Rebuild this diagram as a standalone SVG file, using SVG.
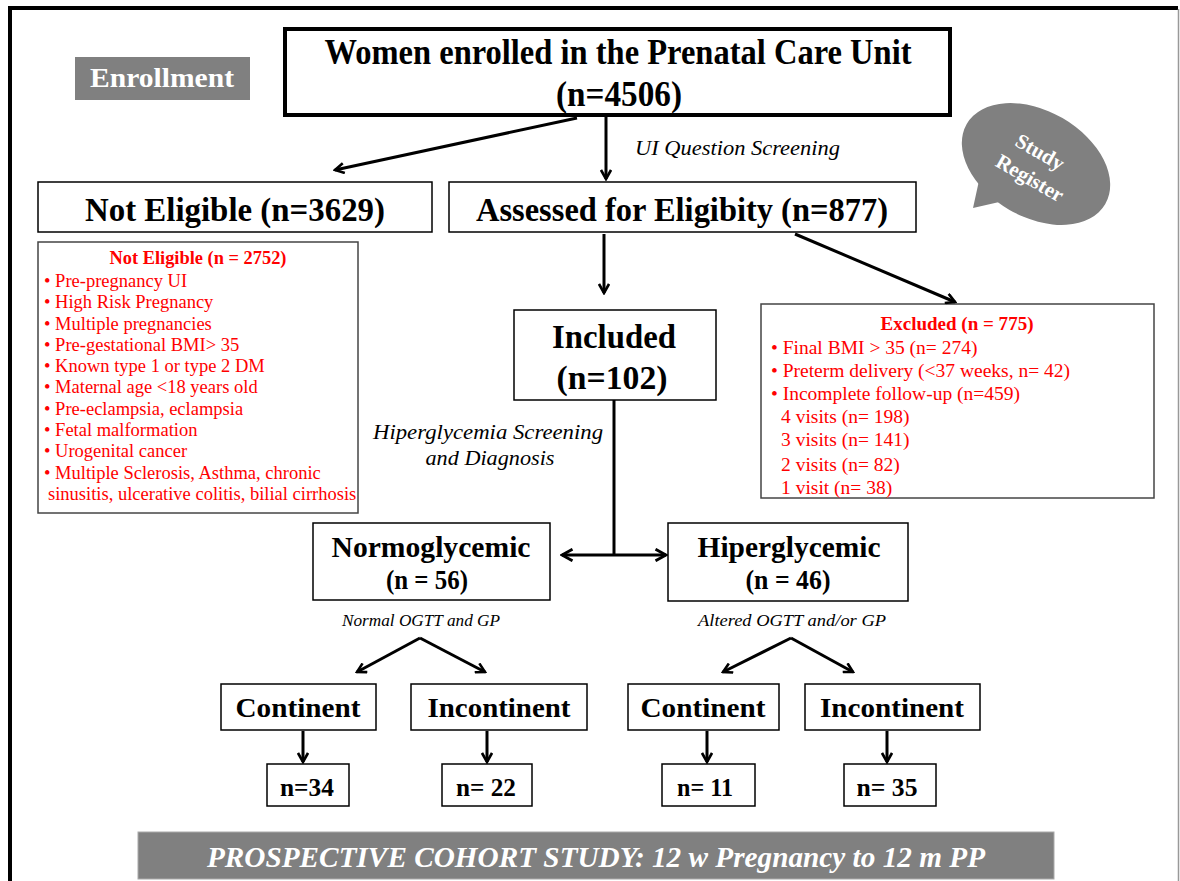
<svg xmlns="http://www.w3.org/2000/svg" width="1180" height="881" viewBox="0 0 1180 881">
<defs>
<marker id="ah" viewBox="0 0 12 12" refX="10" refY="6" markerWidth="12" markerHeight="12" markerUnits="userSpaceOnUse" orient="auto">
<path d="M1,1 L10,6 L1,11" fill="none" stroke="#000" stroke-width="2.6"/>
</marker>
<marker id="ah2" viewBox="0 0 12 12" refX="10" refY="6" markerWidth="14" markerHeight="14" markerUnits="userSpaceOnUse" orient="auto">
<path d="M1,1 L10,6 L1,11" fill="none" stroke="#000" stroke-width="2.4"/>
</marker>
</defs>
<style>
.box{fill:#fff;stroke:#000;stroke-width:1.5}
.gbox{fill:#fff;stroke:#444;stroke-width:1.5}
.t{font-family:"Liberation Serif",serif;font-weight:bold;fill:#000;text-anchor:middle}
.it{font-family:"Liberation Serif",serif;font-style:italic;fill:#000}
.red{font-family:"Liberation Serif",serif;fill:#ff0000;font-size:18.5px}
.redx{font-family:"Liberation Serif",serif;fill:#ff0000;font-size:19.5px}
.redb{font-family:"Liberation Serif",serif;fill:#ff0000;font-weight:bold;text-anchor:middle}
.w{fill:#fff}
.ln{stroke:#000;stroke-width:3;fill:none}
</style>
<rect width="1180" height="881" fill="#fff"/>
<path d="M10,881 L10,8 L1178,8" fill="none" stroke="#000" stroke-width="4"/>
<line x1="1178.5" y1="9" x2="1178.5" y2="881" stroke="#999" stroke-width="1.5"/>

<g id="enrollment">
<rect x="75" y="57" width="175" height="43" fill="#808080"/>
<text x="162" y="87" class="t w" font-size="27" textLength="144" lengthAdjust="spacingAndGlyphs">Enrollment</text>
</g>

<g id="top">
<rect x="285" y="29" width="665" height="86" fill="#fff" stroke="#000" stroke-width="4"/>
<text x="618" y="64" class="t" font-size="35" textLength="587" lengthAdjust="spacingAndGlyphs">Women enrolled in the Prenatal Care Unit</text>
<text x="619" y="106" class="t" font-size="35" textLength="126" lengthAdjust="spacingAndGlyphs">(n=4506)</text>
</g>

<g id="notEligible">
<rect x="38" y="182" width="394" height="50" class="box"/>
<text x="235" y="221" class="t" font-size="33" textLength="300" lengthAdjust="spacingAndGlyphs">Not Eligible (n=3629)</text>
</g>

<g id="assessed">
<rect x="449" y="182" width="467" height="50" class="box"/>
<text x="682" y="221" class="t" font-size="33" textLength="412" lengthAdjust="spacingAndGlyphs">Assessed for Eligibity (n=877)</text>
</g>

<g id="studyRegister">
<ellipse cx="1036" cy="164" rx="80" ry="53" transform="rotate(30 1036 164)" fill="#808080"/>
<path d="M973,208 L980,176 L1008,200 Z" fill="#808080"/>
<text x="1040" y="159" class="t w" font-size="21" transform="rotate(30 1040 152)">Study</text>
<text x="1030" y="185" class="t w" font-size="21" transform="rotate(30 1030 178)">Register</text>
</g>

<g id="notEligibleList">
<rect x="38" y="242" width="320" height="271" class="gbox"/>
<text x="198" y="264" class="redb" font-size="18" textLength="177" lengthAdjust="spacingAndGlyphs">Not Eligible (n = 2752)</text>
<text class="red">
<tspan x="44" y="287">• Pre-pregnancy UI</tspan>
<tspan x="44" y="308">• High Risk Pregnancy</tspan>
<tspan x="44" y="330">• Multiple pregnancies</tspan>
<tspan x="44" y="351">• Pre-gestational BMI&gt; 35</tspan>
<tspan x="44" y="372">• Known type 1 or type 2 DM</tspan>
<tspan x="44" y="393">• Maternal age &lt;18 years old</tspan>
<tspan x="44" y="415">• Pre-eclampsia, eclampsia</tspan>
<tspan x="44" y="436">• Fetal malformation</tspan>
<tspan x="44" y="457">• Urogenital cancer</tspan>
<tspan x="44" y="479">• Multiple Sclerosis, Asthma, chronic</tspan>
<tspan x="48" y="500">sinusitis, ulcerative colitis, bilial cirrhosis</tspan>
</text>
</g>

<g id="included">
<rect x="514" y="310" width="202" height="90" class="box"/>
<text x="614" y="348" class="t" font-size="34" textLength="124" lengthAdjust="spacingAndGlyphs">Included</text>
<text x="612" y="389" class="t" font-size="34" textLength="111" lengthAdjust="spacingAndGlyphs">(n=102)</text>
</g>

<g id="excluded">
<rect x="761" y="304" width="393" height="194" class="gbox"/>
<text x="957" y="330" class="redb" font-size="19" textLength="153" lengthAdjust="spacingAndGlyphs">Excluded (n = 775)</text>
<text class="redx">
<tspan x="771" y="354">• Final BMI &gt; 35 (n= 274)</tspan>
<tspan x="771" y="377">• Preterm delivery (&lt;37 weeks, n= 42)</tspan>
<tspan x="771" y="400">• Incomplete follow-up (n=459)</tspan>
<tspan x="781" y="423">4 visits (n= 198)</tspan>
<tspan x="781" y="446">3 visits (n= 141)</tspan>
<tspan x="781" y="471">2 visits (n= 82)</tspan>
<tspan x="781" y="494">1 visit (n=  38)</tspan>
</text>
</g>

<g id="normo">
<rect x="313" y="523" width="237" height="77" class="box"/>
<text x="431" y="557" class="t" font-size="29" textLength="199" lengthAdjust="spacingAndGlyphs">Normoglycemic</text>
<text x="427" y="589" class="t" font-size="27" textLength="82" lengthAdjust="spacingAndGlyphs">(n = 56)</text>
</g>

<g id="hiper">
<rect x="668" y="523" width="240" height="78" class="box"/>
<text x="789" y="557" class="t" font-size="29" textLength="183" lengthAdjust="spacingAndGlyphs">Hiperglycemic</text>
<text x="788" y="589" class="t" font-size="27" textLength="85" lengthAdjust="spacingAndGlyphs">(n = 46)</text>
</g>

<g id="cont1"><rect x="221" y="684" width="155" height="46" class="box"/><text x="298" y="717" class="t" font-size="28" textLength="125" lengthAdjust="spacingAndGlyphs">Continent</text></g>
<g id="incont1"><rect x="411" y="684" width="176" height="46" class="box"/><text x="499" y="717" class="t" font-size="28" textLength="143" lengthAdjust="spacingAndGlyphs">Incontinent</text></g>
<g id="cont2"><rect x="628" y="684" width="151" height="46" class="box"/><text x="703" y="717" class="t" font-size="28" textLength="125" lengthAdjust="spacingAndGlyphs">Continent</text></g>
<g id="incont2"><rect x="805" y="684" width="175" height="46" class="box"/><text x="892" y="717" class="t" font-size="28" textLength="144" lengthAdjust="spacingAndGlyphs">Incontinent</text></g>

<g id="n34"><rect x="267" y="764" width="82" height="42" class="box"/><text x="307" y="796" class="t" font-size="25" textLength="54" lengthAdjust="spacingAndGlyphs">n=34</text></g>
<g id="n22"><rect x="442" y="764" width="90" height="42" class="box"/><text x="486" y="796" class="t" font-size="25" textLength="60" lengthAdjust="spacingAndGlyphs">n= 22</text></g>
<g id="n11"><rect x="662" y="764" width="93" height="42" class="box"/><text x="705" y="796" class="t" font-size="25" textLength="56" lengthAdjust="spacingAndGlyphs">n= 11</text></g>
<g id="n35"><rect x="844" y="764" width="92" height="42" class="box"/><text x="887" y="796" class="t" font-size="25" textLength="61" lengthAdjust="spacingAndGlyphs">n= 35</text></g>

<g id="labels">
<text x="635" y="155" class="it" font-size="21" textLength="205" lengthAdjust="spacingAndGlyphs">UI Question Screening</text>
<text x="488" y="439" class="it" font-size="21" text-anchor="middle" textLength="230" lengthAdjust="spacingAndGlyphs">Hiperglycemia Screening</text>
<text x="490" y="465" class="it" font-size="21" text-anchor="middle" textLength="129" lengthAdjust="spacingAndGlyphs">and Diagnosis</text>
<text x="421" y="626" class="it" font-size="16" text-anchor="middle" textLength="158" lengthAdjust="spacingAndGlyphs">Normal OGTT and GP</text>
<text x="792" y="626" class="it" font-size="16" text-anchor="middle" textLength="188" lengthAdjust="spacingAndGlyphs">Altered OGTT and/or GP</text>
</g>

<g id="connectors">
<line x1="577" y1="118" x2="335" y2="170" class="ln" marker-end="url(#ah)"/>
<line x1="606" y1="117" x2="606" y2="179" class="ln" marker-end="url(#ah)"/>
<line x1="604" y1="234" x2="604" y2="293" class="ln" marker-end="url(#ah)"/>
<line x1="795" y1="234" x2="955" y2="302" class="ln" marker-end="url(#ah)"/>
<line x1="614" y1="400" x2="614" y2="555" class="ln"/>
<line x1="614" y1="555" x2="562" y2="555" class="ln" marker-end="url(#ah2)"/>
<line x1="614" y1="555" x2="666" y2="555" class="ln" marker-end="url(#ah2)"/>
<line x1="420" y1="638" x2="357" y2="672" class="ln" marker-end="url(#ah)"/>
<line x1="420" y1="638" x2="485" y2="672" class="ln" marker-end="url(#ah)"/>
<line x1="791" y1="638" x2="723" y2="672" class="ln" marker-end="url(#ah)"/>
<line x1="791" y1="638" x2="853" y2="672" class="ln" marker-end="url(#ah)"/>
<line x1="303" y1="731" x2="303" y2="762" class="ln" marker-end="url(#ah)"/>
<line x1="487" y1="731" x2="487" y2="762" class="ln" marker-end="url(#ah)"/>
<line x1="707" y1="731" x2="707" y2="762" class="ln" marker-end="url(#ah)"/>
<line x1="887" y1="731" x2="887" y2="762" class="ln" marker-end="url(#ah)"/>
</g>

<g id="banner">
<rect x="138" y="832" width="916" height="47" fill="#808080" stroke="#aaa" stroke-width="1"/>
<text x="596" y="867" class="t w" font-size="30" style="font-style:italic" textLength="778" lengthAdjust="spacingAndGlyphs">PROSPECTIVE COHORT STUDY: 12 w Pregnancy to 12 m PP</text>
</g>
</svg>
